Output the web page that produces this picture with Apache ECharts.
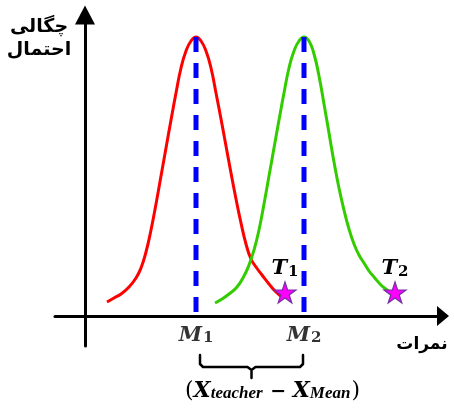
<!DOCTYPE html>
<html><head><meta charset="utf-8">
<script src="https://cdn.jsdelivr.net/npm/echarts@6/dist/echarts.min.js"></script>
<style>html,body{margin:0;padding:0;background:#fff}#c{width:454px;height:412px}</style>
</head><body><div id="c"></div>
<script>
// ---- data (x: score, y: probability density, arbitrary units) ----
const redCurve = [[22,14],[29,18],[36,22],[44,29],[51,38],[56,48],[61,64],[66,86],[71,112],[76,140],[81,168],[86,196],[91,223],[96,248],[101,265],[106,275],[111,279],[116,275],[121,265],[126,248],[131,223],[136,197],[141,170],[146,143],[151,117],[156,93],[161,72],[166,57],[171,49],[177,41],[184,32],[191,24],[197,19]];
const greenCurve = [[130,13],[137,17],[144,22],[152,29],[159,40],[164,51],[169,66],[174,86],[179,112],[184,140],[189,168],[194,196],[199,223],[204,248],[209,265],[214,275],[219,279],[224,275],[229,262],[234,240],[239,212],[244,183],[249,154],[254,128],[259,106],[264,87],[269,72],[274,61],[279,53],[284,45],[289,39],[296,31],[302,26],[308,21]];
const meanX = [111, 219];
const meanTop = 279;
const meanSubs = ['1', '2'];
const teacherX = [200, 310];
const teacherY = [23.5, 23.5];
const teacherSubs = ['1', '2'];
const xAxisName = 'نمرات';
const yAxisName = ['چگالی', 'احتمال'];
const diffParts = ['X', 'teacher', 'X', 'Mean'];

const chart = echarts.init(document.getElementById('c'), null, {renderer: 'canvas'});
const starPath = 'path://M50,0 L61.2,34.5 L97.6,34.5 L68.2,55.9 L79.4,90.5 L50,69.1 L20.6,90.5 L31.8,55.9 L2.4,34.5 L38.8,34.5 Z';
const mathMain = {fontFamily: 'DejaVu Serif', fontWeight: 'bold', fontStyle: 'italic', fontSize: 21, lineHeight: 24, verticalAlign: 'bottom', color: '#000'};
const mathSub = {fontFamily: 'DejaVu Serif', fontWeight: 'bold', fontSize: 15, lineHeight: 13, verticalAlign: 'bottom', color: '#000', padding: [0,0,0,1]};

const series = [
  {type: 'line', data: redCurve, smooth: 0.5, showSymbol: false, lineStyle: {color: '#ff0000', width: 3}, z: 2},
  {type: 'line', data: greenCurve, smooth: 0.5, showSymbol: false, lineStyle: {color: '#33cc00', width: 3}, z: 2}
];
meanX.forEach(function (mx) {
  series.push({type: 'line', data: [[mx, meanTop], [mx, 0]], showSymbol: false,
    lineStyle: {color: '#0000ff', width: 5, type: [15, 11], cap: 'butt'}, z: 3});
});
series.push({
  type: 'scatter', symbol: starPath, symbolSize: [22, 21], z: 5,
  itemStyle: {color: '#ff00ff', borderColor: '#7030a0', borderWidth: 1.2, opacity: 1},
  label: {show: true, position: 'top', distance: 2, rich: {t: mathMain, s: mathSub}},
  data: teacherX.map(function (x, i) {
    return {value: [x, teacherY[i]], label: {formatter: '{t|T}{s|' + teacherSubs[i] + '}'}};
  })
});
series.push({
  type: 'scatter', symbolSize: 0, z: 5,
  label: {show: true, position: 'bottom', distance: 6, rich: {t: mathMain, s: mathSub}},
  data: meanX.map(function (x, i) {
    return {value: [x, 0], label: {formatter: '{t|M}{s|' + meanSubs[i] + '}'}};
  })
});

chart.setOption({
  animation: false,
  backgroundColor: '#fff',
  grid: {left: 55, right: 11, top: 15, bottom: 66},
  xAxis: {type: 'value', min: -30, max: 358,
    axisLine: {show: true, onZero: true, symbol: ['none', 'triangle'], symbolSize: [20, 12], lineStyle: {color: '#000', width: 3}},
    axisTick: {show: false}, axisLabel: {show: false}, splitLine: {show: false}},
  yAxis: {type: 'value', min: -30, max: 301,
    axisLine: {show: true, onZero: true, symbol: ['none', 'triangle'], symbolSize: [20, 19], lineStyle: {color: '#000', width: 3}},
    axisTick: {show: false}, axisLabel: {show: false}, splitLine: {show: false}},
  series: series
});

const p1 = chart.convertToPixel({gridIndex: 0}, [meanX[0], 0]);
const p2 = chart.convertToPixel({gridIndex: 0}, [meanX[1], 0]);
const y0 = p1[1];
const L = p1[0] + 4, R = p2[0] - 1, C = (L + R) / 2;
chart.setOption({
  graphic: [
    {type: 'polyline', shape: {points: [[L, y0 + 39], [L, y0 + 48], [L + 3, y0 + 51], [C - 4, y0 + 51], [C, y0 + 54], [C, y0 + 62], [C, y0 + 54], [C + 4, y0 + 51], [R - 3, y0 + 51], [R, y0 + 48], [R, y0 + 39]]},
      style: {stroke: '#000', lineWidth: 2.5, fill: null, lineJoin: 'round', lineCap: 'round'}},
    {type: 'text', left: L - 15, top: y0 + 64,
      style: {text: '{p|(}{x|' + diffParts[0] + '}{s|' + diffParts[1] + '}{m| − }{x|' + diffParts[2] + '}{s|' + diffParts[3] + '}{p|)}',
        rich: {
          p: {fontFamily: 'DejaVu Serif', fontSize: 22, lineHeight: 26, verticalAlign: 'bottom', fill: '#000'},
          x: {fontFamily: 'DejaVu Serif', fontWeight: 'bold', fontStyle: 'italic', fontSize: 22, lineHeight: 26, verticalAlign: 'bottom', fill: '#000'},
          s: {fontFamily: 'Liberation Serif', fontWeight: 'bold', fontStyle: 'italic', fontSize: 17, lineHeight: 17, verticalAlign: 'bottom', fill: '#000', padding: [0, 1, 0, 0]},
          m: {fontFamily: 'DejaVu Serif', fontWeight: 'bold', fontSize: 19, lineHeight: 26, verticalAlign: 'bottom', fill: '#000'}
        }}},
    {type: 'text', x: 39, y: 16,
      style: {text: yAxisName.join('\n'), font: 'bold 19px "DejaVu Sans"', lineHeight: 23, textAlign: 'center', textVerticalAlign: 'top', fill: '#000'}},
    {type: 'text', x: 422, y: 345,
      style: {text: xAxisName, font: 'bold 17px "DejaVu Sans"', textAlign: 'center', textVerticalAlign: 'middle', fill: '#000'}}
  ]
});
</script>
</body></html>
